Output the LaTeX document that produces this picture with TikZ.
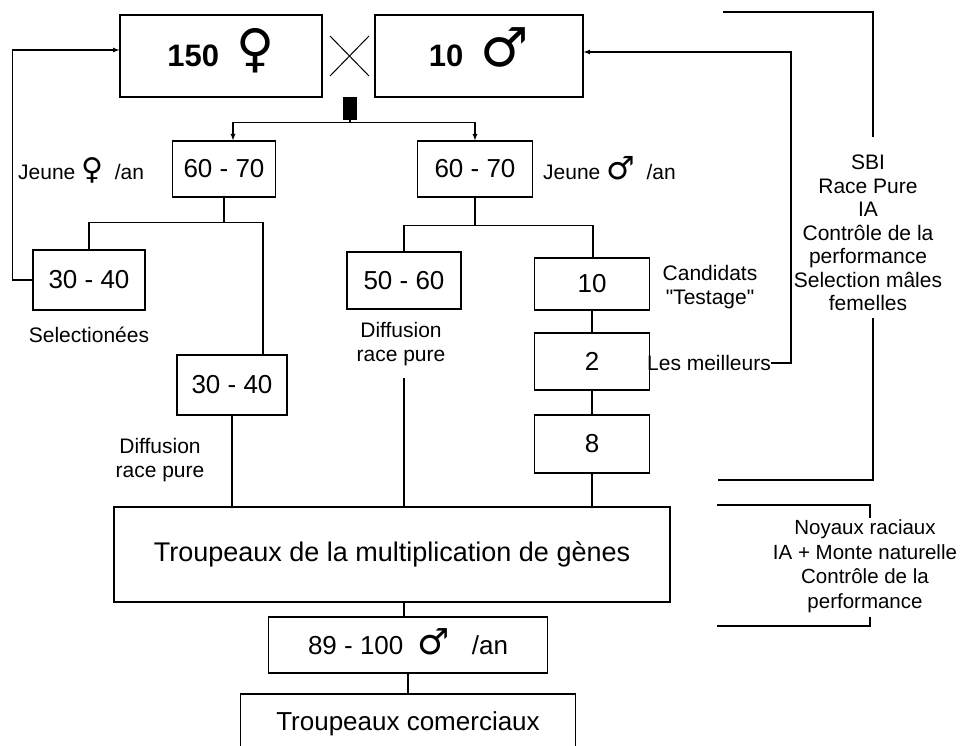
\documentclass[tikz,border=0pt]{standalone}
\usepackage{fontspec}
\setmainfont{Liberation Sans}
\newfontfamily\gsym{DejaVu Sans}
\usetikzlibrary{positioning}

\tikzset{
	box/.style={draw, line width=1.2pt, inner sep=0pt, font=\fontsize{26}{30}\selectfont},
	lbl/.style={inner sep=0pt, align=center, font=\fontsize{21}{23.5}\selectfont},
	ln/.style={line width=1.2pt},
}
\newcommand{\fem}[1]{\smash{\gsym\mdseries\fontsize{#1}{#1}\selectfont ♀}}
\newcommand{\mal}[1]{\smash{\gsym\mdseries\fontsize{#1}{#1}\selectfont ♂}}

\begin{document}
\begin{tikzpicture}[x=1pt, y=-1pt, >=latex]
	\useasboundingbox (0,0) rectangle (964,746);
	\clip (0,0) rectangle (964,746);
	
	% parents
	\node[box, minimum width=202pt, minimum height=82pt, font=\fontsize{31}{36}\selectfont\bfseries] (fem) at (221,56) {150\ \ \fem{52}};
	\node[box, minimum width=208pt, minimum height=82pt, font=\fontsize{31}{36}\selectfont\bfseries] (mal) at (479,56) {10\ \ \mal{54}};
	\draw [line width=1pt] (330,36) -- (369,76) (330,76) -- (369,36);
	\node[fill, inner sep=0pt, minimum width=14pt, minimum height=23pt, anchor=north] (blk) at (350,97) {};
	
	% young per year
	\node[box, minimum width=103pt, minimum height=56pt] (f60) at (224,169) {60 - 70};
	\node[box, minimum width=115pt, minimum height=56pt] (m60) at (475,169) {60 - 70};
	\node[lbl, anchor=west] (fjeune) at (18,172) {Jeune \fem{30}\ \ /an};
	\node[lbl, anchor=west] (mjeune) at (543,172) {Jeune \mal{32}\ \ /an};
	
	\draw[ln,->] (blk.south) -- ++(0,2) -| ([xshift=9pt]f60.north);
	\draw[ln,->] (blk.south) -- ++(0,2) -| (m60.north);
	
	% females
	\node[box, minimum width=112pt, minimum height=60pt] (fsel) at (89,280) {30 - 40};
	\node[lbl] (selec) at (89,335) {Selectionées};
	\node[box, minimum width=110pt, minimum height=60pt] (fdif) at (232,385) {30 - 40};
	\node[lbl] (fdiftxt) at (160,460) {Diffusion\\race pure};
	
	\draw[ln] (f60.south) -- ++(0,25) coordinate (fj);
	\draw[ln] (fsel.north) |- (fj) -| ([xshift=31pt]fdif.north);
	
	% males
	\node[box, minimum width=114pt, minimum height=57pt] (mdif) at (404,280.5) {50 - 60};
	\node[lbl] (mdiftxt) at (401,344) {Diffusion\\race pure};
	\node[box, minimum width=115pt, minimum height=52pt] (m10) at (592,284) {10};
	\node[lbl] (cand) at (710,287) {Candidats\\\textquotedbl Testage\textquotedbl};
	\node[box, minimum width=115pt, minimum height=57pt] (m2) at (592,361.5) {2};
	\node[lbl] (best) at (709,363) {Les meilleurs};
	\node[box, minimum width=115pt, minimum height=58pt] (m8) at (592,444) {8};
	
	\draw[ln] (m60.south) -- ++(0,28) coordinate (mj);
	\draw[ln] (mdif.north) |- (mj) -| ([xshift=1pt]m10.north);
	\draw[ln] (m10) -- (m2) -- (m8);
	
	% back to the parents
	\draw[ln,->] (fsel.west) -- ++(-20,0) |- ([yshift=6pt]fem.west);
	\draw[ln,->] (best.east) -- ++(20,0) |- ([yshift=4pt]mal.east);
	
	% multiplication
	\node[box, minimum width=556pt, minimum height=95pt, font=\fontsize{27}{30}\selectfont] (big) at (392,554.5) {Troupeaux de la multiplication de gènes};
	\coordinate (dfree) at (404,378);
	\draw[ln] (fdif) -- (fdif |- big.north);
	\draw[ln] (dfree) -- (dfree |- big.north);
	\draw[ln] (m8) -- (m8 |- big.north);
	
	\node[box, minimum width=279pt, minimum height=56pt] (n89) at (408,645) {89 - 100\ \ \mal{36}\ \ \ /an};
	\node[box, minimum width=335pt, minimum height=60pt] (com) at (408,724) {Troupeaux comerciaux};
	\draw[ln] ([xshift=-4pt]n89.north) -- ([xshift=-4pt]n89.north |- big.south);
	\draw[ln] (n89.south) -- (n89.south |- com.north);
	
	% levels
	\node[lbl] (sbi) at (868,233) {SBI\\Race Pure\\IA\\Contrôle de la\\performance\\Selection mâles\\femelles};
	\draw[ln] (723,12) -- (873,12) -- (873,137);
	\draw[ln] (873,318) -- (873,480) -- (718,480);
	
	\node[lbl, font=\fontsize{20.5}{24.5}\selectfont] (noyaux) at (865,566) {Noyaux raciaux\\IA + Monte naturelle\\Contrôle de la\\performance};
	\draw[ln] (717,505) -- (870,505) -- (870,518);
	\draw[ln] (870,617) -- (870,626) -- (717,626);
\end{tikzpicture}
\end{document}
